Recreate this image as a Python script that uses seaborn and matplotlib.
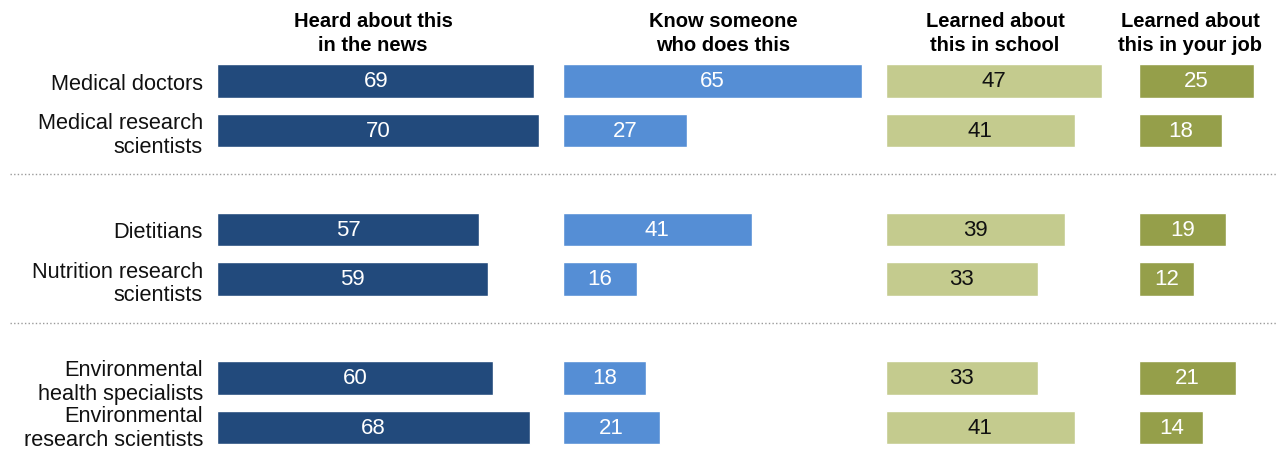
import matplotlib
matplotlib.use("Agg")
import matplotlib.pyplot as plt
import matplotlib.transforms as mtransforms
import seaborn as sns
import pandas as pd

# --- data -------------------------------------------------------------
occupations = [
    "Medical doctors",
    "Medical research\nscientists",
    "Dietitians",
    "Nutrition research\nscientists",
    "Environmental\nhealth specialists",
    "Environmental\nresearch scientists",
]
heard_in_news = [69, 70, 57, 59, 60, 68]
know_someone = [65, 27, 41, 16, 18, 21]
learned_in_school = [47, 41, 39, 33, 33, 41]
learned_in_job = [25, 18, 19, 12, 21, 14]

panel_titles = [
    "Heard about this\nin the news",
    "Know someone\nwho does this",
    "Learned about\nthis in school",
    "Learned about\nthis in your job",
]
panel_colors = ["#224a7c", "#558ed5", "#c4cb8e", "#959f4a"]
label_colors = ["white", "white", "#111111", "white"]

# --- layout (pixels) --------------------------------------------------
W, H, DPI = 1276, 452, 100
PX_PER_UNIT = 4.6          # horizontal scale shared by all panels
ROW_PX = 49.5              # spacing between row centres
FIRST_ROW_Y = 82           # centre of the first row, from the top
panel_left = [217, 563, 886, 1139]
panel_right = [550, 875, 1125, 1276]
title_center = [373, 723, 995, 1190]

sns.set_theme(style="white")
plt.rcParams["font.family"] = ["Liberation Sans", "DejaVu Sans"]

fig = plt.figure(figsize=(W / DPI, H / DPI), dpi=DPI)

# rows grouped in pairs with a blank slot between groups
positions = [g * 3 + k for g in range(3) for k in range(2)]
ylim = (7.45, -0.5)
ax_top = FIRST_ROW_Y + ylim[1] * ROW_PX
ax_bot = FIRST_ROW_Y + ylim[0] * ROW_PX

series = [heard_in_news, know_someone, learned_in_school, learned_in_job]

# background axis for the dotted group separators
bg = fig.add_axes([0, 1 - ax_bot / H, 1, (ax_bot - ax_top) / H])
bg.set_xlim(0, W)
bg.set_ylim(*ylim)
bg.axis("off")
for ysep in (1.88, 4.89):
    bg.hlines(ysep, 10, W, colors="#9a9a9a", linewidth=1.0, linestyles=(0, (1, 1.6)))

for i, vals in enumerate(series):
    left, right = panel_left[i], panel_right[i]
    ax = fig.add_axes([left / W, 1 - ax_bot / H, (right - left) / W, (ax_bot - ax_top) / H])
    df = pd.DataFrame({"value": vals, "pos": positions})
    sns.barplot(data=df, x="value", y="pos", orient="h", native_scale=True,
                color=panel_colors[i], saturation=1, width=0.67, errorbar=None, ax=ax)
    ax.set_xlim(0, (right - left) / PX_PER_UNIT)
    ax.set_ylim(*ylim)
    for c in ax.containers:
        ax.bar_label(c, labels=[f"{v:d}" for v in vals], label_type="center",
                     color=label_colors[i], fontsize=16)
    ax.set_xlabel("")
    ax.set_ylabel("")
    ax.set_xticks([])
    ax.set_yticks([])
    for s in ax.spines.values():
        s.set_visible(False)
    ax.patch.set_alpha(0)

    if i == 0:
        # occupation names, right-aligned just left of the first panel
        trans = mtransforms.blended_transform_factory(ax.transAxes, ax.transData)
        trans = trans + mtransforms.ScaledTranslation(-14 / DPI, 0, fig.dpi_scale_trans)
        last = len(occupations) - 1
        for k, (name, pos) in enumerate(zip(occupations, positions)):
            ax.text(0, pos, name, transform=trans, ha="right",
                    va="center" if k == last else "center_baseline",
                    fontsize=15.7, color="#111111", linespacing=1.17)

    fig.text(title_center[i] / W, 1 - 33.5 / H, panel_titles[i], ha="center", va="center",
             fontsize=14.5, fontweight="bold", color="black", linespacing=1.34)

fig.savefig("out.png", dpi=DPI)
